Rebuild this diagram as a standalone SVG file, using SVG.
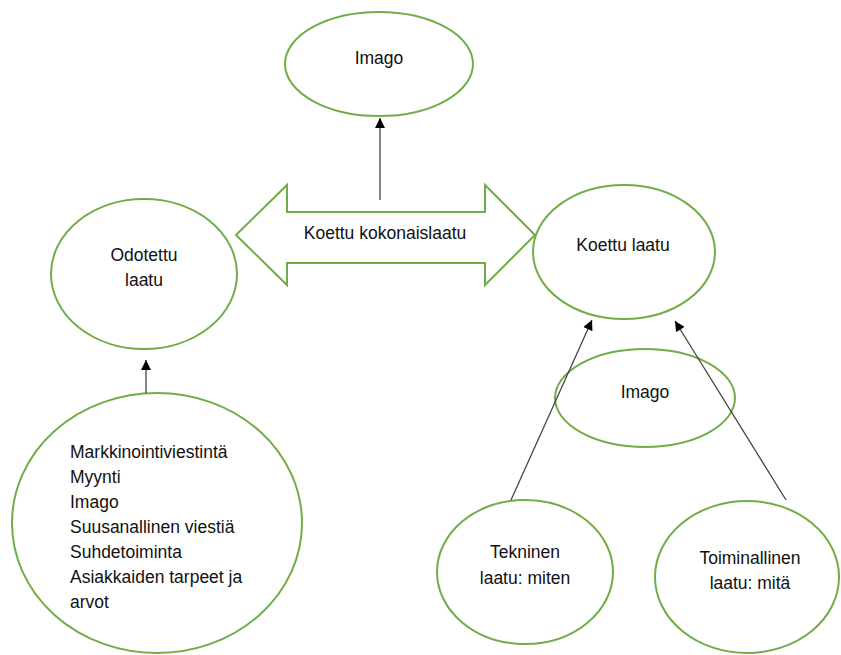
<svg xmlns="http://www.w3.org/2000/svg" width="841" height="655" viewBox="0 0 841 655">
<defs>
<style>
.n{fill:#fff;stroke:#70ad47;stroke-width:2}
.t{font-family:"Liberation Sans",Arial,sans-serif;font-size:17.5px;fill:#111;text-anchor:middle;dominant-baseline:central}
.tl{text-anchor:start}
.c{stroke:#444;stroke-width:1.3;fill:none;marker-end:url(#ah)}
</style>
<marker id="ah" viewBox="0 0 10 10" refX="10" refY="5" markerWidth="11" markerHeight="10" markerUnits="userSpaceOnUse" orient="auto">
<path d="M0,0 L10,5 L0,10 z" fill="#000"/>
</marker>
</defs>
<rect width="841" height="655" fill="#fff"/>
<g id="imago-top">
<ellipse class="n" cx="379" cy="64" rx="94" ry="52"/>
<text class="t" x="379" y="58">Imago</text>
</g>
<g id="koettu-kokonaislaatu">
<path class="n" d="M236,235 L287,185 L287,212 L485,212 L485,185 L535,235 L485,285 L485,263 L287,263 L287,285 Z"/>
<text class="t" x="385" y="233">Koettu kokonaislaatu</text>
</g>
<g id="odotettu">
<ellipse class="n" cx="144" cy="274" rx="93" ry="75"/>
<text class="t" x="144" y="255">Odotettu</text>
<text class="t" x="144" y="280">laatu</text>
</g>
<g id="tekijat">
<ellipse class="n" cx="157" cy="523" rx="145" ry="130"/>
<text class="t tl" x="70" y="452">Markkinointiviestintä</text>
<text class="t tl" x="70" y="477">Myynti</text>
<text class="t tl" x="70" y="502">Imago</text>
<text class="t tl" x="70" y="527">Suusanallinen viestiä</text>
<text class="t tl" x="70" y="552">Suhdetoiminta</text>
<text class="t tl" x="70" y="577">Asiakkaiden tarpeet ja</text>
<text class="t tl" x="70" y="602">arvot</text>
</g>
<g id="koettu-laatu">
<ellipse class="n" cx="624" cy="252" rx="91" ry="67"/>
<text class="t" x="623" y="245">Koettu laatu</text>
</g>
<g id="imago-small">
<ellipse class="n" cx="645" cy="398" rx="90" ry="49"/>
<text class="t" x="645" y="392">Imago</text>
</g>
<g id="tekninen">
<ellipse class="n" cx="525" cy="572" rx="88" ry="72"/>
<text class="t" x="525" y="552">Tekninen</text>
<text class="t" x="525" y="578">laatu: miten</text>
</g>
<g id="toiminallinen">
<ellipse class="n" cx="747" cy="577" rx="92" ry="76"/>
<text class="t" x="750" y="558">Toiminallinen</text>
<text class="t" x="750" y="583">laatu: mitä</text>
</g>
<g id="connectors">
<line class="c" x1="380" y1="200" x2="380" y2="118"/>
<line class="c" x1="146" y1="393" x2="146" y2="360"/>
<line class="c" x1="511" y1="500" x2="592" y2="320"/>
<line class="c" x1="786" y1="500" x2="675" y2="321"/>
</g>
</svg>
